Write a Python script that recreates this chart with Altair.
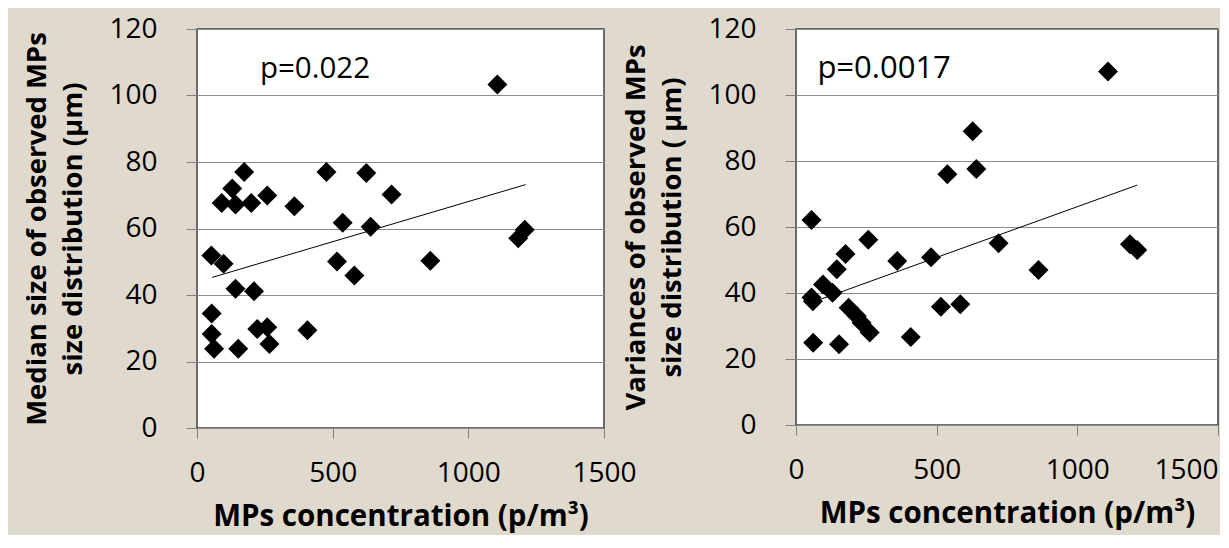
import altair as alt
import pandas as pd

# ---- data ----
left_x = [1107, 174, 477, 624, 130, 91, 142, 200, 259, 359, 717, 537, 640, 1208, 1184,
          53, 98, 516, 860, 580, 142, 210, 54, 54, 222, 259, 407, 63, 152, 267]
left_y = [103.3, 77.0, 77.0, 76.7, 72.0, 67.7, 67.2, 67.7, 69.9, 66.7, 70.2, 61.7, 60.5, 59.6, 57.1,
          51.9, 49.4, 50.1, 50.3, 45.9, 41.9, 41.1, 34.4, 28.3, 29.8, 30.3, 29.4, 23.8, 23.8, 25.3]

right_x = [1109, 628, 538, 641, 55, 257, 720, 1187, 1213, 176, 360, 480, 145, 862,
           55, 60, 96, 130, 187, 216, 233, 262, 515, 584, 408, 61, 153]
right_y = [107.1, 89.0, 76.0, 77.6, 62.1, 56.1, 55.1, 54.8, 53.0, 51.8, 49.7, 50.8, 47.2, 47.0,
           38.6, 37.5, 42.6, 40.1, 35.5, 33.0, 31.0, 28.0, 35.8, 36.6, 26.7, 24.9, 24.5]

left_trend_x = [56, 1211]
left_trend_y = [45.3, 73.2]
right_trend_x = [55, 1213]
right_trend_y = [37.1, 72.7]

p_labels = ["p=0.022", "p=0.0017"]
p_x = [232, 76]
p_y = [108, 108]

x_ticks = [0, 500, 1000, 1500]
y_ticks = [0, 20, 40, 60, 80, 100, 120]

x_title = "MPs concentration (p/m³)"
left_y_title = ["Median size of observed MPs", "size distribution (µm)"]
right_y_title = ["Variances of  observed MPs", "size distribution ( µm)"]

TICK_FONT = "Open Sans"
TITLE_FONT = "Open Sans"


def panel(xs, ys, tx, ty, plabel, px, py, ytitle, w, h, last_align, pfont):
    xsc = alt.Scale(domain=[0, 1500], nice=False, zero=False)
    ysc = alt.Scale(domain=[0, 120], nice=False, zero=False)
    xax = alt.Axis(values=x_ticks, grid=False, title=x_title, tickSize=10, format="d",
                   labelPadding=21, titlePadding=15, labelFlush=False,
                   labelAlign=alt.condition("datum.value == 1500",
                                            alt.value(last_align), alt.value("center")),
                   titleFontSize=29.5)
    yax = alt.Axis(values=y_ticks, grid=True, title=ytitle, tickSize=11,
                   labelPadding=29, titlePadding=21, titleLineHeight=36,
                   labelFlush=False, titleFontSize=27.5)
    X = alt.X("x:Q", scale=xsc, axis=xax)
    Y = alt.Y("y:Q", scale=ysc, axis=yax)

    pts = alt.Chart(pd.DataFrame({"x": xs, "y": ys})).mark_point(
        shape="diamond", filled=True, size=400, color="black", opacity=1
    ).encode(x=X, y=Y)
    trend = alt.Chart(pd.DataFrame({"x": tx, "y": ty})).mark_line(
        color="black", strokeWidth=1
    ).encode(x=X, y=Y)
    txt = alt.Chart(pd.DataFrame({"x": [px], "y": [py], "t": [plabel]})).mark_text(
        align="left", baseline="middle", font=TICK_FONT, fontSize=pfont, color="black"
    ).encode(x=X, y=Y, text="t:N")
    return alt.layer(pts, trend, txt).properties(width=w, height=h)


left = panel(left_x, left_y, left_trend_x, left_trend_y, p_labels[0], p_x[0], p_y[0],
             left_y_title, 407, 399, "center", 29.5)
right = panel(right_x, right_y, right_trend_x, right_trend_y, p_labels[1], p_x[1], p_y[1],
              right_y_title, 422, 396, "right", 31)

chart = alt.hconcat(left, right, spacing=192, bounds="flush").configure(
    background="#e0d9cd",
    padding={"left": 15, "top": 6, "right": 0, "bottom": 3},
    font=TICK_FONT,
).configure_view(
    stroke="#404040", strokeWidth=1.5, fill="white"
).configure_axis(
    labelFont=TICK_FONT, labelFontSize=28, labelColor="black",
    titleFont=TITLE_FONT, titleFontWeight="bold", titleColor="black",
    domain=False, tickColor="#808080", tickWidth=1,
    gridColor="#8c8c8c", gridWidth=1,
)

chart.save("out.html", embed_options={"renderer": "svg", "actions": False})
